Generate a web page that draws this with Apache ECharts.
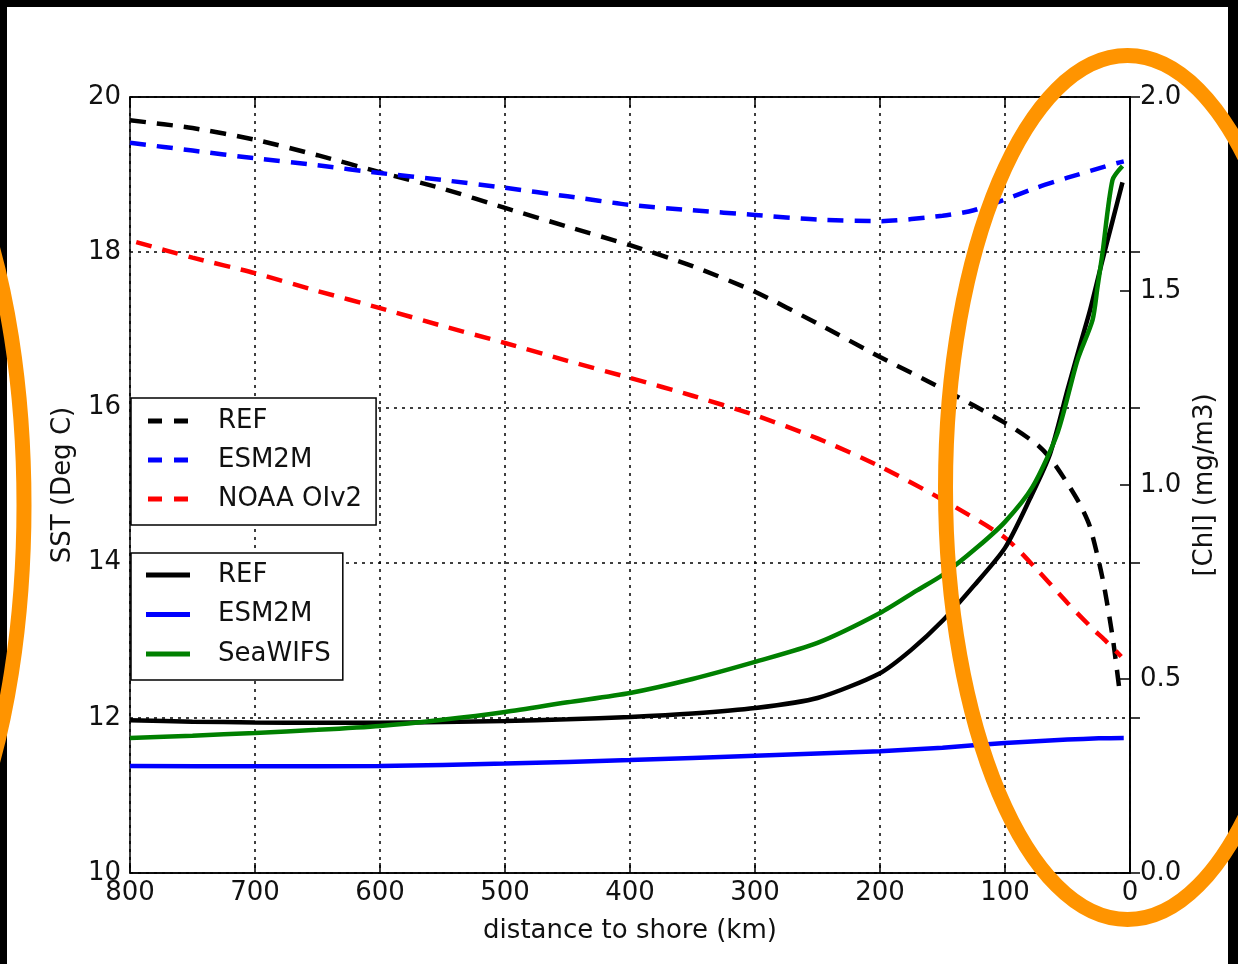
<!DOCTYPE html>
<html>
<head>
<meta charset="utf-8">
<script src="https://cdn.jsdelivr.net/npm/echarts@6/dist/echarts.min.js"></script>
<style>
html,body{margin:0;padding:0;background:#000;}
#chart{width:1238px;height:964px;}
</style>
</head>
<body>
<div id="chart"></div>
<script>
// ---- data (distance to shore in km) ----
var xTicks = [800, 700, 600, 500, 400, 300, 200, 100, 0];

var sstRefDist = [800, 750, 700, 650, 600, 550, 500, 450, 400, 350, 300, 250, 200, 150, 100, 75, 64, 50, 40, 32, 22, 14, 8];
var sstRef     = [19.70, 19.60, 19.45, 19.25, 19.03, 18.82, 18.57, 18.33, 18.09, 17.82, 17.49, 17.08, 16.65, 16.24, 15.80, 15.53, 15.35, 15.02, 14.75, 14.46, 13.80, 13.05, 12.30];

var sstEsmDist = [800, 750, 700, 650, 600, 550, 500, 450, 400, 350, 300, 250, 200, 150, 125, 100, 75, 50, 25, 10, 5];
var sstEsm     = [19.41, 19.31, 19.21, 19.12, 19.02, 18.93, 18.83, 18.72, 18.61, 18.54, 18.48, 18.42, 18.40, 18.47, 18.54, 18.68, 18.83, 18.96, 19.08, 19.15, 19.17];

var sstNoaaDist = [795, 750, 700, 650, 600, 550, 500, 450, 400, 350, 300, 250, 200, 150, 100, 75, 50, 30, 20, 7];
var sstNoaa     = [18.13, 17.93, 17.73, 17.50, 17.28, 17.05, 16.83, 16.60, 16.38, 16.15, 15.90, 15.60, 15.24, 14.81, 14.32, 13.92, 13.48, 13.15, 13.00, 12.79];

var chlRefDist = [800, 750, 700, 650, 600, 550, 500, 450, 400, 350, 300, 250, 200, 175, 150, 125, 100, 80, 64, 50, 40, 32, 22, 14, 6];
var chlRef     = [0.394, 0.390, 0.388, 0.387, 0.387, 0.389, 0.392, 0.396, 0.402, 0.411, 0.425, 0.451, 0.515, 0.575, 0.650, 0.740, 0.838, 0.965, 1.080, 1.245, 1.36, 1.45, 1.58, 1.68, 1.78];

var chlEsmDist = [800, 700, 600, 500, 400, 300, 200, 150, 100, 50, 25, 5];
var chlEsm     = [0.276, 0.275, 0.276, 0.282, 0.291, 0.302, 0.314, 0.323, 0.335, 0.344, 0.347, 0.348];

var chlSeaDist = [800, 750, 700, 650, 600, 550, 500, 450, 400, 350, 300, 250, 200, 170, 150, 122, 100, 78, 58, 42, 30, 26, 22, 14, 6];
var chlSea     = [0.348, 0.354, 0.361, 0.369, 0.379, 0.395, 0.415, 0.440, 0.464, 0.500, 0.544, 0.593, 0.670, 0.729, 0.768, 0.840, 0.905, 0.995, 1.134, 1.322, 1.425, 1.51, 1.598, 1.786, 1.822];

function pairs(xs, ys) { return xs.map(function (x, i) { return [x, ys[i]]; }); }

var FONT = 'DejaVu Sans';
var TXT = '#111';
var dottedGrid = { show: true, lineStyle: { color: '#000', width: 1.5, type: [3, 5] } };
var axisLine = { show: true, lineStyle: { color: '#000', width: 1.5 } };
var inTick = { show: true, inside: true, length: 10, lineStyle: { color: '#000', width: 1.5 } };
var lbl = { color: TXT, fontSize: 26, fontFamily: FONT };
var DASH = [16, 11];

function dashed(name, data, color) {
  return { name: name, type: 'line', yAxisIndex: 0, xAxisIndex: 0, data: data, showSymbol: false,
    smooth: 0.25, lineStyle: { color: color, width: 4.5, type: DASH }, itemStyle: { color: color }, z: 3, silent: true };
}
function solid(name, data, color) {
  return { name: name, type: 'line', yAxisIndex: 1, xAxisIndex: 0, data: data, showSymbol: false,
    smooth: 0.25, lineStyle: { color: color, width: 4.5 }, itemStyle: { color: color }, z: 4, silent: true };
}

var chart = echarts.init(document.getElementById('chart'), null, { renderer: 'canvas' });
var dashIcon = 'path://M0,0H14V5H0Z M26,0H40V5H26Z';

chart.setOption({
  backgroundColor: '#000',
  animation: false,
  textStyle: { fontFamily: FONT },
  grid: { left: 130, top: 97, width: 1000, height: 776, show: true, borderColor: '#000', borderWidth: 1.5, backgroundColor: 'transparent' },
  xAxis: [
    { type: 'value', position: 'bottom', min: 0, max: 800, interval: 100, inverse: true,
      axisLine: axisLine, axisTick: inTick, splitLine: dottedGrid,
      axisLabel: Object.assign({ margin: 7 }, lbl),
      name: 'distance to shore (km)', nameLocation: 'middle', nameGap: 45,
      nameTextStyle: { color: TXT, fontSize: 26, fontFamily: FONT } },
    { type: 'value', position: 'top', min: 0, max: 800, interval: 100, inverse: true,
      axisLine: axisLine, axisTick: inTick, splitLine: { show: false }, axisLabel: { show: false } }
  ],
  yAxis: [
    { type: 'value', position: 'left', min: 10, max: 20, interval: 2,
      axisLine: axisLine, axisTick: inTick, splitLine: dottedGrid,
      axisLabel: Object.assign({ margin: 9 }, lbl),
      name: 'SST (Deg C)', nameLocation: 'middle', nameGap: 54,
      nameTextStyle: { color: TXT, fontSize: 26, fontFamily: FONT } },
    { type: 'value', position: 'right', min: 0, max: 2, interval: 0.5,
      axisLine: axisLine, axisTick: inTick, splitLine: { show: false },
      axisLabel: Object.assign({ margin: 10, formatter: function (v) { return v.toFixed(1); } }, lbl),
      name: '[Chl] (mg/m3)', nameLocation: 'middle', nameGap: 62, nameRotate: 90,
      nameTextStyle: { color: TXT, fontSize: 26, fontFamily: FONT } }
  ],
  legend: [
    { orient: 'vertical', left: 131, top: 398, selectedMode: false,
      backgroundColor: '#fff', borderColor: '#000', borderWidth: 1.5, borderRadius: 0,
      padding: [8, 14, 11, 17], itemGap: 9, itemWidth: 40, itemHeight: 5,
      itemStyle: { borderWidth: 0 },
      textStyle: { color: TXT, fontSize: 26, fontFamily: FONT, lineHeight: 30, padding: [0, 0, 0, 25] },
      formatter: function (n) { return n.replace(' (SST)', ''); },
      data: [ { name: 'REF (SST)', icon: dashIcon }, { name: 'ESM2M (SST)', icon: dashIcon }, { name: 'NOAA OIv2', icon: dashIcon } ] },
    { orient: 'vertical', left: 131, top: 553, selectedMode: false,
      backgroundColor: '#fff', borderColor: '#000', borderWidth: 1.5, borderRadius: 0,
      padding: [7, 12, 11, 15], itemGap: 9.5, itemWidth: 44, itemHeight: 5,
      itemStyle: { borderWidth: 0 },
      textStyle: { color: TXT, fontSize: 26, fontFamily: FONT, lineHeight: 30, padding: [0, 0, 0, 23] },
      data: [ { name: 'REF', icon: 'rect' }, { name: 'ESM2M', icon: 'rect' }, { name: 'SeaWIFS', icon: 'rect' } ] }
  ],
  graphic: [
    { type: 'rect', z: -100, silent: true, shape: { x: 7, y: 7, width: 1221, height: 957 }, style: { fill: '#fff' } },
    { type: 'ellipse', z: 100, silent: true, shape: { cx: 1127.5, cy: 487.5, rx: 182, ry: 432 }, style: { fill: null, stroke: '#ff9400', lineWidth: 15 } },
    { type: 'ellipse', z: 100, silent: true, shape: { cx: -135, cy: 505, rx: 159, ry: 430 }, style: { fill: null, stroke: '#ff9400', lineWidth: 15 } }
  ],
  series: [
    dashed('REF (SST)', pairs(sstRefDist, sstRef), '#000000'),
    dashed('ESM2M (SST)', pairs(sstEsmDist, sstEsm), '#0000ff'),
    dashed('NOAA OIv2', pairs(sstNoaaDist, sstNoaa), '#ff0000'),
    solid('REF', pairs(chlRefDist, chlRef), '#000000'),
    solid('ESM2M', pairs(chlEsmDist, chlEsm), '#0000ff'),
    solid('SeaWIFS', pairs(chlSeaDist, chlSea), '#008000')
  ]
});
</script>
</body>
</html>
